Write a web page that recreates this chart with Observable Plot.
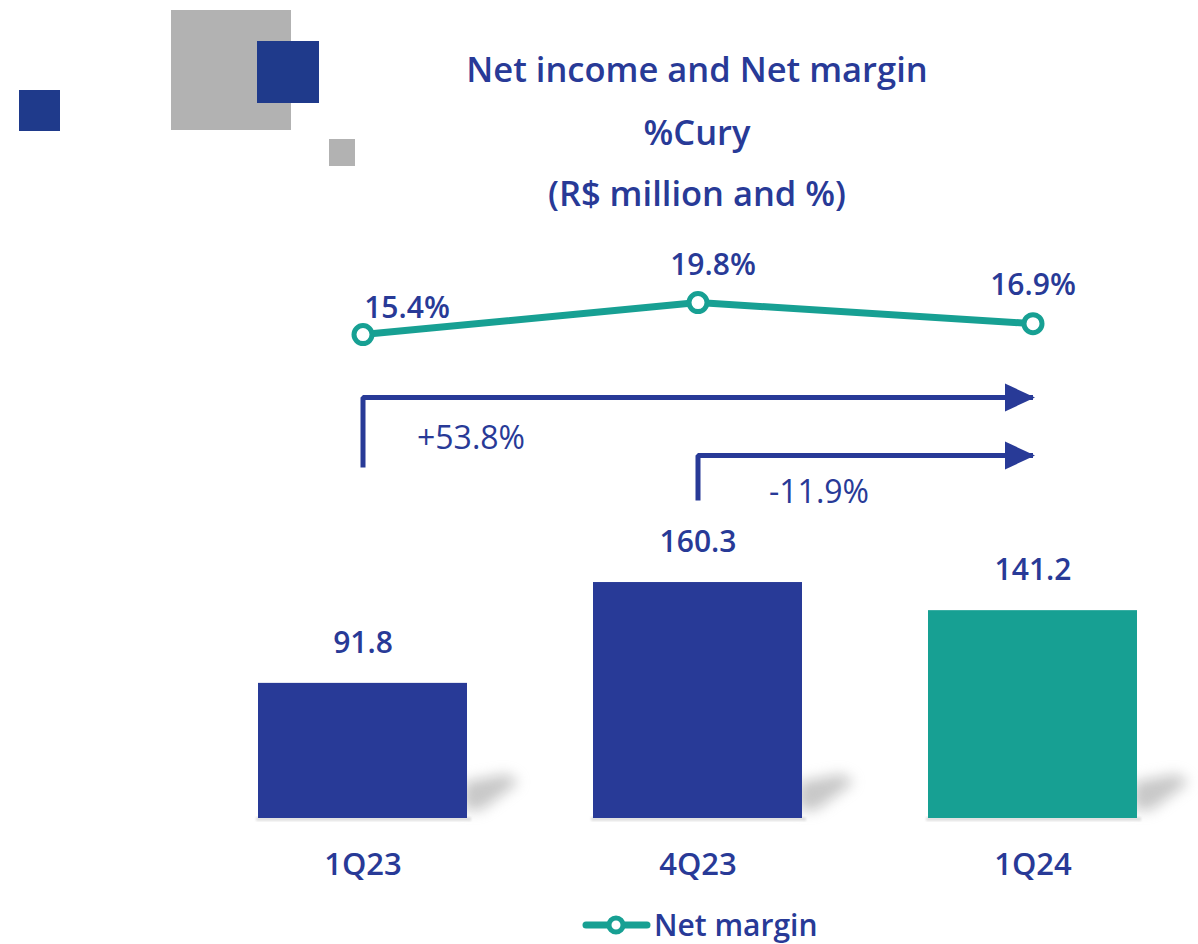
<!DOCTYPE html>
<html><head><meta charset="utf-8">
<script src="https://cdn.jsdelivr.net/npm/d3@7"></script>
<script src="https://cdn.jsdelivr.net/npm/@observablehq/plot@0.6"></script>
<style>
body{margin:0;background:#fff;}
#wrap{position:relative;width:1198px;height:944px;overflow:hidden;font-family:"Open Sans","Noto Sans",sans-serif;color:#283a97;}
.abs{position:absolute;}
.sq{position:absolute;}
.ttl{position:absolute;left:347px;width:700px;text-align:center;font-size:34.5px;font-weight:600;line-height:34px;white-space:nowrap;}
</style></head>
<body><div id="wrap"></div>
<script>
// ---- data ----
const categories = ["1Q23", "4Q23", "1Q24"];
const netIncome = [91.8, 160.3, 141.2];      // R$ million
const netMargin = [15.4, 19.8, 16.9];        // %
const growthFrom = ["1Q23", "4Q23"];
const growthTo = ["1Q24", "1Q24"];
const growthLabels = ["+53.8%", "-11.9%"];
const titleLines = ["Net income and Net margin", "%Cury", "(R$ million and %)"];
const legendLabel = "Net margin";

// ---- styles ----
const W = 1198, H = 944;
const NAVY = "#283a97", TEAL = "#17a093", DECO_BLUE = "#1f3a8b", DECO_GRAY = "#b2b2b2";
const FONT = "'Open Sans','Noto Sans',sans-serif";

const bars = categories.map((c, i) => ({cat: c, value: netIncome[i], color: i === categories.length - 1 ? TEAL : NAVY}));
const margins = categories.map((c, i) => ({cat: c, value: netMargin[i]}));
const arrows = growthLabels.map((l, i) => ({from: growthFrom[i], to: growthTo[i], label: l}));

const xOpts = {type: "band", domain: categories, range: [258, 1138], paddingInner: 0.376, paddingOuter: 0, align: 0.5, axis: null};

// arrow geometry expressed in the net income (bar) scale
const arrowLow = [238.5, 216], arrowHigh = [286, 246.6], arrowLabelY = [258, 221];
const arrowLabelDx = [108, 121];
const arrowPaths = arrows.flatMap((a, i) => [
  {k: i, x: a.from, y: arrowLow[i]},
  {k: i, x: a.from, y: arrowHigh[i]},
  {k: i, x: a.to, y: arrowHigh[i]}
]);
const arrowHead = {draw(ctx, size) {
  const r = Math.sqrt(size / Math.PI);
  ctx.moveTo(r, 0); ctx.lineTo(-r, -0.93 * r); ctx.lineTo(-r, 0.93 * r); ctx.closePath();
}};

const wrap = document.getElementById("wrap");

// decorative squares
[[19, 90, 41, 41, DECO_BLUE], [171, 10, 120, 120, DECO_GRAY], [257, 41, 62, 62, DECO_BLUE], [329, 139, 26, 27, DECO_GRAY]]
  .forEach(([l, t, w, h, c]) => {
    const d = document.createElement("div");
    d.className = "sq";
    Object.assign(d.style, {left: l + "px", top: t + "px", width: w + "px", height: h + "px", background: c});
    wrap.appendChild(d);
  });

// title
const titleBaselines = [82, 145, 206];
titleLines.forEach((t, i) => {
  const d = document.createElement("div");
  d.className = "ttl";
  d.style.top = (titleBaselines[i] - 30) + "px";
  d.textContent = t;
  wrap.appendChild(d);
});

// ---- bars chart ----
const chart1 = Plot.plot({
  width: W, height: H, margin: 0,
  x: xOpts,
  y: {domain: [0, 100], range: [818, 818 - 147.2], axis: null},
  color: {type: "identity"},
  style: {background: "transparent", fontFamily: FONT, overflow: "visible"},
  marks: [
    Plot.barY(bars, {x: "cat", y: "value", fill: "color"}),
    Plot.text(bars, {x: "cat", y: "value", text: d => d.value.toFixed(1), dy: -40, fill: NAVY, fontSize: 30, fontWeight: 600}),
    Plot.text(bars, {x: "cat", y: () => 0, text: "cat", dy: 47, fill: NAVY, fontSize: 31, fontWeight: 600}),
    Plot.line(arrowPaths, {x: "x", y: "y", z: "k", stroke: NAVY, strokeWidth: 5, strokeLinejoin: "miter", strokeLinecap: "butt"}),
    Plot.dot(arrows, {x: "to", y: (d, i) => arrowHigh[i], symbol: arrowHead, r: 15, fill: NAVY, dx: -13}),
    ...arrows.map((a, i) => Plot.text([a], {x: "from", y: () => arrowLabelY[i], text: "label", dx: arrowLabelDx[i], fill: NAVY, fontSize: 32, fontWeight: 400}))
  ]
});
chart1.classList.add("abs");
chart1.style.left = "0px"; chart1.style.top = "0px";
wrap.appendChild(chart1);

// soft shadows drawn from the same scales
{
  const sx = chart1.scale("x"), sy = chart1.scale("y");
  const svg = d3.select(chart1);
  const g = svg.insert("g", ":first-child");
  const defs = svg.insert("defs", ":first-child");
  defs.append("filter").attr("id", "sh").attr("x", "-50%").attr("y", "-50%").attr("width", "200%").attr("height", "200%")
    .append("feGaussianBlur").attr("stdDeviation", 7);
  defs.append("filter").attr("id", "sh2").append("feGaussianBlur").attr("stdDeviation", 1);
  bars.forEach(b => {
    const L = sx.apply(b.cat), R = L + sx.bandwidth, B = sy.apply(0);
    g.append("polygon")
      .attr("points", [[R - 4, B - 8], [R - 4, B - 36], [R + 40, B - 44], [R + 52, B - 36], [R + 14, B - 8]].map(p => p.join(",")).join(" "))
      .attr("fill", "#909090").attr("opacity", 0.5).attr("filter", "url(#sh)");
    g.append("rect").attr("x", L - 2).attr("y", B - 1).attr("width", R - L + 6).attr("height", 4)
      .attr("fill", "#e0e0e0").attr("filter", "url(#sh2)");
  });
}

// ---- net margin overlay chart ----
const labelOffsets = [[44, -26], [15, -37], [0, -38]];
const chart2 = Plot.plot({
  width: W, height: H, margin: 0,
  x: xOpts,
  y: {domain: [0, 20], range: [446, 300.6], axis: null},
  style: {background: "transparent", fontFamily: FONT, overflow: "visible"},
  marks: [
    Plot.line(margins, {x: "cat", y: "value", stroke: TEAL, strokeWidth: 7}),
    Plot.dot(margins, {x: "cat", y: "value", r: 9, fill: "white", stroke: TEAL, strokeWidth: 5}),
    ...margins.map((m, i) => Plot.text([m], {x: "cat", y: "value", text: d => d.value.toFixed(1) + "%", dx: labelOffsets[i][0], dy: labelOffsets[i][1], fill: NAVY, fontSize: 30, fontWeight: 600}))
  ]
});
chart2.classList.add("abs");
chart2.style.left = "0px"; chart2.style.top = "0px";
wrap.appendChild(chart2);

// ---- legend ----
const leg = document.createElement("div");
leg.className = "abs";
Object.assign(leg.style, {left: "580px", top: "908px", display: "flex", alignItems: "center", gap: "2px", fontSize: "30px", fontWeight: 600, lineHeight: "34px", whiteSpace: "nowrap"});
leg.innerHTML = `<svg width="72" height="34"><line x1="6" y1="17" x2="67" y2="17" stroke="${TEAL}" stroke-width="7" stroke-linecap="round"/><circle cx="36" cy="17" r="7" fill="white" stroke="${TEAL}" stroke-width="5"/></svg><span>${legendLabel}</span>`;
wrap.appendChild(leg);
</script>
</body></html>
